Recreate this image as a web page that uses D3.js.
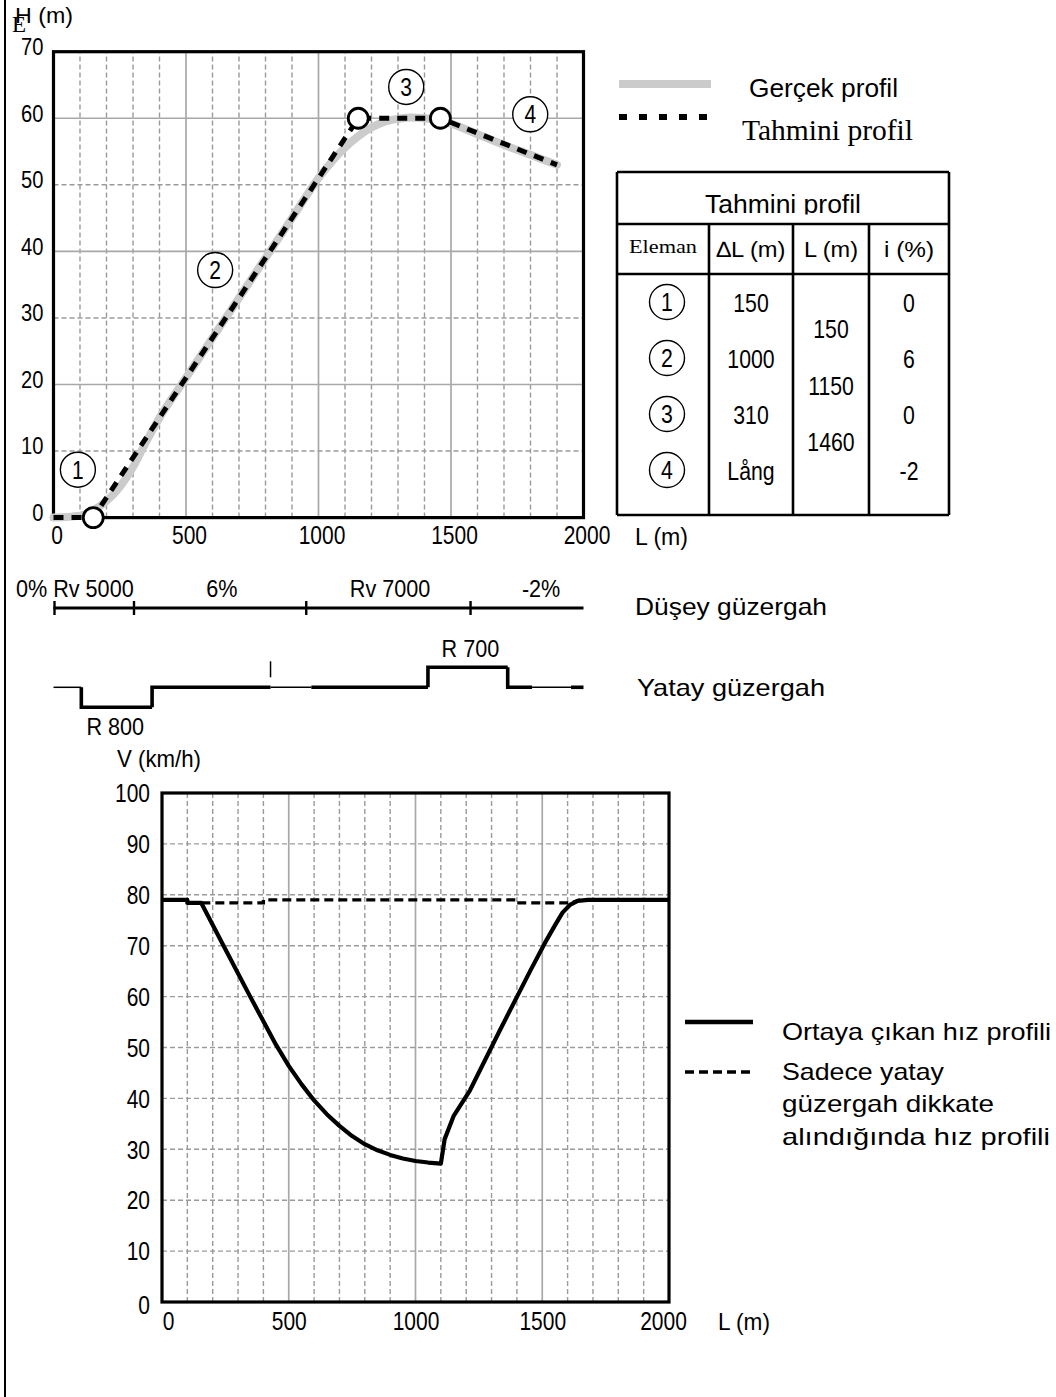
<!DOCTYPE html>
<html><head><meta charset="utf-8">
<script src="https://cdn.jsdelivr.net/npm/d3@7"></script>
<style>body{margin:0;background:#fff}svg{display:block}</style>
</head><body>
<svg id="c" width="1056" height="1397"></svg>
<script>
// ---------------- DATA ----------------
const lenTicks = [0, 500, 1000, 1500, 2000];
const elevTicks = [0, 10, 20, 30, 40, 50, 60, 70];
const speedTicks = [0, 10, 20, 30, 40, 50, 60, 70, 80, 90, 100];

const realProfile = [[0,0],[100,0.3],[150,1.1],[200,2.5],[250,4.6],[300,7.6],[350,11.4],[400,15],
  [500,21],[600,27],[700,33],[800,39],[900,45],
  [1000,51],[1050,53.5],[1100,55.6],[1150,57.3],[1200,58.6],[1250,59.5],[1300,59.9],[1350,60.1],
  [1400,60],[1450,59.7],[1500,59.2],[1600,57.6],[1700,56],[1800,54.5],[1900,53]];
// estimated profile polyline
const estProfile = [[0,0],[150,0],[1150,60],[1460,60],[1900,53]];
// break points
const breakL = [150, 1150, 1460];
const breakH = [0, 60, 60];
// element labels (circled numbers) in chart
const elemNames = ["1","2","3","4"];
const elemLabelL = [92, 610, 1331, 1799];
const elemLabelH = [7.2, 37.2, 64.7, 60.6];

// table
const tableTitle = "Tahmini profil";
const tableHeads = ["Eleman", "\u2206L (m)", "L (m)", "i (%)"];
const tableDL = ["150", "1000", "310", "L\u00e5ng"];
const tableCumL = ["150", "1150", "1460"];
const tableI = ["0", "6", "0", "-2"];

// vertical alignment band
const vertBreaks = [0, 300, 950, 1570];
const vertEnd = 2000;
const vertLabels = ["0% Rv 5000", "6%", "Rv 7000", "-2%"];
const vertLabelL = [155, 635, 1270, 1840];

// horizontal alignment band: [from, to, level, thick]
const horSegs = [[0,105,0,0],[105,372,-1,1],[372,819,0,1],[819,973,0,0],[973,1413,0,1],
  [1413,1714,1,1],[1714,1806,0,1],[1806,1953,0,0],[1953,2000,0,1]];
const horMarkL = 819;
const horLabels = ["R 800", "R 700"];
const horLabelL = [233, 1573];

// speed profiles
const speedResult = [[0,79],[100,79],[100,78.4],[155,78.4],[250,69.3],[350,59.8],[450,50.5],[500,46.4],
  [550,42.8],[600,39.6],[650,36.9],[700,34.6],[750,32.6],[800,31],[850,29.8],[900,28.9],[950,28.2],
  [1000,27.7],[1050,27.4],[1100,27.2],[1115,32],[1150,36.5],[1215,41.6],[1333,53.4],[1452,65],
  [1510,70.5],[1550,74],[1580,76.5],[1609,78],[1640,78.8],[1680,79],[2000,79]];
const speedHoriz = [[100,78.4],[400,78.4],[400,79],[1400,79],[1400,78.4],[1610,78.4],[1650,79]];

// ---------------- DRAW ----------------
const svg = d3.select("#c");
const sans = "'Liberation Sans', Arial, sans-serif";
const serif = "'Liberation Serif', 'Times New Roman', serif";
const NARROW = 0.84;

function txt(x, y, s, opt = {}) {
  const sx = opt.sx || 1;
  const t = svg.append("text").attr("transform", `translate(${x},${y}) scale(${sx},1)`).text(s)
    .attr("font-family", opt.family || sans).attr("font-size", opt.size || 24)
    .attr("text-anchor", opt.anchor || "start").attr("fill", "#000");
  if (opt.width) t.attr("textLength", opt.width / sx).attr("lengthAdjust", "spacingAndGlyphs");
  return t;
}

// page left border line
svg.append("line").attr("x1", 5).attr("x2", 5).attr("y1", 0).attr("y2", 1397)
  .attr("stroke", "#000").attr("stroke-width", 2);

// ===== Top chart =====
const x1 = d3.scaleLinear().domain([0, 2000]).range([53.5, 583.5]);
const y1 = d3.scaleLinear().domain([0, 70]).range([517.6, 51.7]);

const g1 = svg.append("g");
d3.range(100, 2000, 100).forEach(v => {
  const solid = v % 500 === 0;
  g1.append("line").attr("x1", x1(v)).attr("x2", x1(v)).attr("y1", y1(0)).attr("y2", y1(70))
    .attr("stroke", solid ? "#a8a8a8" : "#9a9a9a").attr("stroke-width", solid ? 1.7 : 1.4)
    .attr("stroke-dasharray", solid ? null : "5,3");
});
d3.range(10, 70, 10).forEach(v => {
  const solid = v % 20 === 0;
  g1.append("line").attr("x1", x1(0)).attr("x2", x1(2000)).attr("y1", y1(v)).attr("y2", y1(v))
    .attr("stroke", solid ? "#a8a8a8" : "#9a9a9a").attr("stroke-width", solid ? 1.7 : 1.4)
    .attr("stroke-dasharray", solid ? null : "5,3");
});

const fmt = d => String(d);
const ax1 = svg.append("g").attr("transform", `translate(0,${y1(0)})`)
  .call(d3.axisBottom(x1).tickValues(lenTicks).tickFormat(fmt).tickSize(0).tickPadding(9));
ax1.select(".domain").remove();
ax1.selectAll("text").attr("font-family", sans).attr("font-size", 25).attr("fill", "#000")
  .attr("transform", `scale(${NARROW},1)`).attr("x", 3 / NARROW);
const ay1 = svg.append("g").attr("transform", `translate(${x1(0)},0)`)
  .call(d3.axisLeft(y1).tickValues(elevTicks).tickFormat(fmt).tickSize(0).tickPadding(10 / NARROW));
ay1.select(".domain").remove();
ay1.selectAll("text").attr("font-family", sans).attr("font-size", 24).attr("fill", "#000")
  .attr("transform", `scale(${NARROW},1)`).attr("dy", "0.12em");

// frame
svg.append("rect").attr("x", x1(0)).attr("y", y1(70)).attr("width", x1(2000) - x1(0))
  .attr("height", y1(0) - y1(70)).attr("fill", "none").attr("stroke", "#000").attr("stroke-width", 3.2);

const lineReal = d3.line().x(d => x1(d[0])).y(d => y1(d[1])).curve(d3.curveMonotoneX);
const lineEst = d3.line().x(d => x1(d[0])).y(d => y1(d[1]));
svg.append("path").attr("d", lineReal(realProfile))
  .attr("fill", "none").attr("stroke", "#cbcbcb").attr("stroke-width", 8).attr("stroke-linecap", "round");
svg.append("path").attr("d", lineEst(estProfile))
  .attr("fill", "none").attr("stroke", "#000").attr("stroke-width", 5).attr("stroke-dasharray", "10,8");
breakL.forEach((L, i) => {
  svg.append("circle").attr("cx", x1(L)).attr("cy", y1(breakH[i])).attr("r", 10)
    .attr("fill", "#fff").attr("stroke", "#000").attr("stroke-width", 2.8);
});
elemNames.forEach((n, i) => {
  const cx = x1(elemLabelL[i]), cy = y1(elemLabelH[i]);
  svg.append("circle").attr("cx", cx).attr("cy", cy).attr("r", 17.5).attr("fill", "#fff")
    .attr("stroke", "#000").attr("stroke-width", 1.4);
  txt(cx, cy + 9, n, { anchor: "middle", size: 25, sx: NARROW });
});

// axis titles
txt(15, 23, "H (m)", { size: 22, width: 58 });
txt(12, 32, "E", { family: serif, size: 23 });
txt(635, 545, "L (m)", { size: 23, width: 53 });

// legend top
svg.append("line").attr("x1", 619).attr("x2", 711).attr("y1", 84).attr("y2", 84)
  .attr("stroke", "#cbcbcb").attr("stroke-width", 8);
svg.append("line").attr("x1", 619).attr("x2", 711).attr("y1", 117).attr("y2", 117)
  .attr("stroke", "#000").attr("stroke-width", 6).attr("stroke-dasharray", "8,12");
txt(749, 97, "Gerçek profil", { size: 25, width: 149 });
txt(742, 140, "Tahmini profil", { family: serif, size: 29, width: 171 });

// ===== Table =====
const tb = { l: 617, r: 949, t: 172, b: 515, r1: 224, r2: 274, cols: [709, 793, 869] };
txt((tb.l + tb.r) / 2, 213, tableTitle, { size: 25, anchor: "middle", width: 156 });
svg.append("rect").attr("x", tb.l + 2).attr("y", 214.5).attr("width", tb.r - tb.l - 4).attr("height", 9).attr("fill", "#fff");
const tl = (xa, ya, xb, yb) => svg.append("line").attr("x1", xa).attr("y1", ya).attr("x2", xb).attr("y2", yb)
  .attr("stroke", "#000").attr("stroke-width", 2.6);
tl(tb.l, tb.t, tb.r, tb.t); tl(tb.l, tb.t, tb.l, tb.b); tl(tb.r, tb.t, tb.r, tb.b); tl(tb.l, tb.b, tb.r, tb.b);
tl(tb.l, tb.r1, tb.r, tb.r1); tl(tb.l, tb.r2, tb.r, tb.r2);
tb.cols.forEach(c => tl(c, tb.r1, c, tb.b));
const colC = [663, 751, 831, 909];
txt(colC[0], 253, tableHeads[0], { family: serif, size: 18, anchor: "middle", width: 68 });
txt(colC[1], 257, tableHeads[1], { size: 22, anchor: "middle", width: 69 });
txt(colC[2], 257, tableHeads[2], { size: 22, anchor: "middle", width: 54 });
txt(colC[3], 257, tableHeads[3], { size: 22, anchor: "middle", width: 50 });
const rowC = [302, 358, 414, 470];
rowC.forEach((cy, i) => {
  svg.append("circle").attr("cx", 667).attr("cy", cy).attr("r", 17.5).attr("fill", "none")
    .attr("stroke", "#000").attr("stroke-width", 1.4);
  txt(667, cy + 9, elemNames[i], { size: 25, anchor: "middle", sx: 0.85 });
  txt(colC[1], cy + 10, tableDL[i], { size: 25, anchor: "middle", sx: 0.85 });
  txt(colC[3], cy + 10, tableI[i], { size: 25, anchor: "middle", sx: 0.85 });
});
[329, 386, 442].forEach((cy, i) => txt(colC[2], cy + 9, tableCumL[i], { size: 25, anchor: "middle", sx: 0.85 }));

// ===== Vertical alignment band (Düşey) =====
const bandY = 608;
svg.append("line").attr("x1", x1(vertBreaks[0])).attr("x2", x1(vertEnd)).attr("y1", bandY).attr("y2", bandY)
  .attr("stroke", "#000").attr("stroke-width", 3);
vertBreaks.forEach(L => svg.append("line").attr("x1", x1(L) + 1).attr("x2", x1(L) + 1)
  .attr("y1", bandY - 7).attr("y2", bandY + 7).attr("stroke", "#000").attr("stroke-width", 2.4));
vertLabels.forEach((s, i) => txt(i === 0 ? 16 : x1(vertLabelL[i]), 597, s,
  { size: 24, anchor: i === 0 ? "start" : "middle", sx: 0.9 }));
txt(635, 615, "Düşey güzergah", { size: 24, width: 192 });

// ===== Horizontal alignment band (Yatay) =====
const hy = d3.scaleLinear().domain([-1, 0, 1]).range([707.3, 687.3, 667.3]);
horSegs.forEach((s, i) => {
  const prev = horSegs[i - 1];
  const pts = [];
  if (prev && prev[2] !== s[2]) pts.push([s[0], prev[2]]);
  pts.push([s[0], s[2]], [s[1], s[2]]);
  svg.append("path").attr("d", d3.line().x(d => x1(d[0])).y(d => hy(d[1]))(pts))
    .attr("fill", "none").attr("stroke", "#000").attr("stroke-width", s[3] ? 3.6 : 1.5);
});
svg.append("line").attr("x1", x1(horMarkL)).attr("x2", x1(horMarkL)).attr("y1", hy(1.3)).attr("y2", hy(0.5))
  .attr("stroke", "#000").attr("stroke-width", 1.5);
txt(x1(horLabelL[0]), 735, horLabels[0], { size: 24, anchor: "middle", sx: 0.9 });
txt(x1(horLabelL[1]), 657, horLabels[1], { size: 24, anchor: "middle", sx: 0.9 });
txt(637, 696, "Yatay güzergah", { size: 24, width: 188 });

// ===== Bottom (speed) chart =====
const x2 = d3.scaleLinear().domain([0, 2000]).range([162, 669]);
const y2 = d3.scaleLinear().domain([0, 100]).range([1302, 793]);
const g2 = svg.append("g");
d3.range(100, 2000, 100).forEach(v => {
  const solid = v % 500 === 0;
  g2.append("line").attr("x1", x2(v)).attr("x2", x2(v)).attr("y1", y2(0)).attr("y2", y2(100))
    .attr("stroke", solid ? "#a8a8a8" : "#9a9a9a").attr("stroke-width", solid ? 1.7 : 1.4)
    .attr("stroke-dasharray", solid ? null : "5,3");
});
d3.range(10, 100, 10).forEach(v => {
  g2.append("line").attr("x1", x2(0)).attr("x2", x2(2000)).attr("y1", y2(v)).attr("y2", y2(v))
    .attr("stroke", "#9a9a9a").attr("stroke-width", 1.4).attr("stroke-dasharray", "5,3");
});
const ax2 = svg.append("g").attr("transform", `translate(0,${y2(0)})`)
  .call(d3.axisBottom(x2).tickValues(lenTicks).tickFormat(fmt).tickSize(0).tickPadding(10));
ax2.select(".domain").remove();
ax2.selectAll("text").attr("font-family", sans).attr("font-size", 25).attr("fill", "#000")
  .attr("transform", `scale(${NARROW},1)`)
  .attr("x", d => (d === 0 ? 6 : (d === 2000 ? -6 : 0)) / NARROW);
const ay2 = svg.append("g").attr("transform", `translate(${x2(0)},0)`)
  .call(d3.axisLeft(y2).tickValues(speedTicks).tickFormat(fmt).tickSize(0).tickPadding(12 / NARROW));
ay2.select(".domain").remove();
ay2.selectAll("text").attr("font-family", sans).attr("font-size", 25).attr("fill", "#000")
  .attr("transform", `scale(${NARROW},1)`)
  .attr("dy", d => d === 0 ? "0.45em" : "0.35em");
svg.append("rect").attr("x", x2(0)).attr("y", y2(100)).attr("width", x2(2000) - x2(0))
  .attr("height", y2(0) - y2(100)).attr("fill", "none").attr("stroke", "#000").attr("stroke-width", 3.2);

const line2 = d3.line().x(d => x2(d[0])).y(d => y2(d[1]));
svg.append("path").attr("d", line2(speedHoriz)).attr("fill", "none")
  .attr("stroke", "#000").attr("stroke-width", 3.3).attr("stroke-dasharray", "9,5");
svg.append("path").attr("d", line2(speedResult)).attr("fill", "none")
  .attr("stroke", "#000").attr("stroke-width", 4.2).attr("stroke-linejoin", "round");

txt(117, 767, "V (km/h)", { size: 24, width: 84 });
txt(718, 1330, "L (m)", { size: 24, width: 52 });

// legend bottom
svg.append("line").attr("x1", 685).attr("x2", 753).attr("y1", 1022).attr("y2", 1022)
  .attr("stroke", "#000").attr("stroke-width", 4.7);
svg.append("line").attr("x1", 685).attr("x2", 753).attr("y1", 1072).attr("y2", 1072)
  .attr("stroke", "#000").attr("stroke-width", 3.3).attr("stroke-dasharray", "9,5");
txt(782, 1040, "Ortaya çıkan hız profili", { size: 24, width: 269 });
txt(782, 1080, "Sadece yatay", { size: 24, width: 162 });
txt(782, 1112, "güzergah dikkate", { size: 24, width: 212 });
txt(782, 1145, "alındığında hız profili", { size: 24, width: 268 });
</script>
</body></html>
